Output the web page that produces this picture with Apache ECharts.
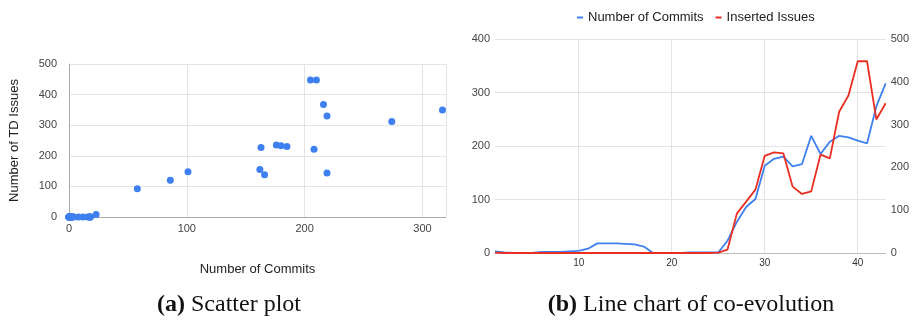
<!DOCTYPE html>
<html>
<head>
<meta charset="utf-8">
<script src="https://cdn.jsdelivr.net/npm/echarts@6/dist/echarts.min.js"></script>
<style>
  html, body { margin: 0; padding: 0; background: #fff; }
  #chart { width: 912px; height: 322px; }
</style>
</head>
<body>
<div id="chart"></div>
<script>
// per-period values (period 1..43)
var periods = [];
for (var p = 1; p <= 43; p++) periods.push(String(p));

var commits = [3, 1, 0, 0, 0, 2, 2, 2, 3, 4, 8, 18, 18, 18, 17, 16, 12, 0, 0, 0,
  0, 1, 1, 1, 1, 23, 58, 86, 101, 163, 176, 180, 162, 166, 219, 185, 208, 219,
  216, 210, 205, 274, 317];
var issues = [1, 0, 0, 0, 0, 0, 0, 0, 0, 0, 0, 0, 0, 0, 0, 0, 0, 0, 0, 0,
  0, 0, 0, 0, 1, 8, 92, 120, 148, 227, 235, 233, 155, 138, 144, 230, 221, 330,
  368, 448, 448, 312, 350];

var scatterTicks = [0, 100, 200, 300];
var labelPeriods = ["10", "20", "30", "40"];

var blue = "#3e80ef";
var red = "#ea2e22";
var gridColor = "#e4e4e4";
var labelColor = "#444";

var pairs = commits.map(function (c, i) { return [c, issues[i]]; });

function showPeriod(idx, val) {
  return labelPeriods.indexOf(val) !== -1;
}

var captionStyle = {
  fontFamily: "Liberation Serif", fontSize: 24, fontWeight: "normal", color: "#111",
  rich: { b: { fontFamily: "Liberation Serif", fontSize: 24, fontWeight: "bold", color: "#111" } }
};

var chartDom = document.getElementById("chart");
var myChart = echarts.init(chartDom);

var option = {
  animation: false,
  textStyle: { fontFamily: "Liberation Sans, Arial, sans-serif" },
  title: [
    { text: "{b|(a)} Scatter plot", left: 224, top: 288, textAlign: "center", textStyle: captionStyle },
    { text: "{b|(b)} Line chart of co-evolution", left: 686, top: 288, textAlign: "center", textStyle: captionStyle }
  ],
  legend: {
    data: ["Number of Commits", "Inserted Issues"],
    top: 6, left: 572,
    icon: "rect", itemWidth: 6, itemHeight: 2, itemGap: 12,
    textStyle: { fontSize: 13, color: "#222" }
  },
  grid: [
    { left: 69, top: 64, width: 377, height: 153 },
    { left: 495, top: 39, width: 391, height: 214 }
  ],
  xAxis: [
    {
      gridIndex: 0, type: "value", min: 0, max: 320, interval: 100,
      name: "Number of Commits", nameLocation: "middle", nameGap: 46,
      nameTextStyle: { fontSize: 13, color: "#222" },
      axisLine: { show: true, lineStyle: { color: "#aaa" } },
      axisTick: { show: false },
      axisLabel: { color: labelColor, fontSize: 11, margin: 6, showMaxLabel: false,
        formatter: function (v) { return scatterTicks.indexOf(v) !== -1 ? v : ""; } },
      splitLine: { show: true, lineStyle: { color: gridColor } }
    },
    {
      gridIndex: 1, type: "category", data: periods, boundaryGap: false,
      axisLine: { show: true, lineStyle: { color: "#bbb" } },
      axisTick: { show: false },
      axisLabel: { color: "#333", fontSize: 10, margin: 5, interval: showPeriod },
      splitLine: { show: true, interval: showPeriod, lineStyle: { color: gridColor } }
    }
  ],
  yAxis: [
    {
      gridIndex: 0, type: "value", min: 0, max: 500, interval: 100,
      name: "Number of TD Issues", nameLocation: "middle", nameGap: 48,
      nameTextStyle: { fontSize: 13, color: "#222" },
      axisLine: { show: true, lineStyle: { color: "#aaa" } },
      axisTick: { show: false },
      axisLabel: { color: labelColor, fontSize: 11, margin: 12 },
      splitLine: { show: true, lineStyle: { color: gridColor } }
    },
    {
      gridIndex: 1, type: "value", min: 0, max: 400, interval: 100,
      axisLine: { show: false },
      axisTick: { show: false },
      axisLabel: { color: labelColor, fontSize: 11, margin: 5 },
      splitLine: { show: true, lineStyle: { color: gridColor } }
    },
    {
      gridIndex: 1, type: "value", min: 0, max: 500, interval: 100, position: "right",
      axisLine: { show: false },
      axisTick: { show: false },
      axisLabel: { color: labelColor, fontSize: 11, margin: 5 },
      splitLine: { show: false }
    }
  ],
  series: [
    {
      type: "scatter", xAxisIndex: 0, yAxisIndex: 0,
      symbolSize: 7, itemStyle: { color: blue, opacity: 1 },
      data: pairs
    },
    {
      name: "Number of Commits", type: "line", xAxisIndex: 1, yAxisIndex: 1,
      showSymbol: false, lineStyle: { color: blue, width: 1.8 }, itemStyle: { color: blue },
      data: commits
    },
    {
      name: "Inserted Issues", type: "line", xAxisIndex: 1, yAxisIndex: 2,
      showSymbol: false, lineStyle: { color: red, width: 1.8 }, itemStyle: { color: red },
      data: issues
    }
  ]
};

myChart.setOption(option);
</script>
</body>
</html>
